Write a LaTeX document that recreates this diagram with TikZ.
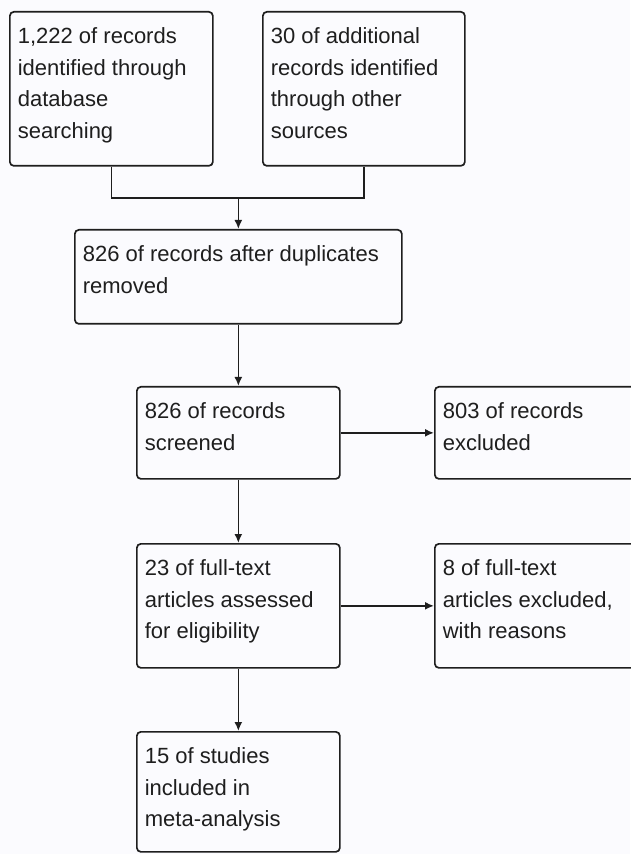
\documentclass[tikz,border=0pt]{standalone}
\usepackage{fontspec}
\setmainfont{Liberation Sans}
\usetikzlibrary{arrows.meta}
\definecolor{paper}{RGB}{251,251,254}
\definecolor{ink}{RGB}{30,30,30}
\newcommand{\boxtext}[3]{\parbox[c][#2][t]{#1}{\raggedright\rule{0pt}{16pt}#3}}
\begin{document}
\begin{tikzpicture}[x=0.5pt,y=-0.5pt,
  stage/.style={draw=ink, text=ink, line width=0.85pt, rounded corners=2pt, anchor=north west,
    inner xsep=4pt, inner ysep=0pt, font=\fontsize{11}{15.75}\selectfont},
  flow/.style={draw=ink, line width=0.85pt, -{Latex[length=4.5pt,width=4pt]}}]
\fill[paper] (0,0) rectangle (630,854);
\useasboundingbox (0,0) rectangle (630,854);

\node[stage] (database) at (9,11) {\boxtext{93.5pt}{77pt}{1,222 of records\\identified through\\database\\searching}};
\node[stage] (other) at (262,11) {\boxtext{93pt}{77pt}{30 of additional\\records identified\\through other\\sources}};
\node[stage] (dedup) at (74,229) {\boxtext{155.5pt}{47pt}{826 of records after duplicates\\removed}};
\node[stage] (screened) at (136,386) {\boxtext{93.5pt}{46pt}{826 of records\\screened}};
\node[stage] (excluded) at (434,386) {\boxtext{97pt}{46pt}{803 of records\\excluded}};
\node[stage] (fulltext) at (136,543) {\boxtext{93.5pt}{62pt}{23 of full-text\\articles assessed\\for eligibility}};
\node[stage] (reasons) at (434,543) {\boxtext{97pt}{62pt}{8 of full-text\\articles excluded,\\with reasons}};
\node[stage] (included) at (136,731) {\boxtext{93.5pt}{60pt}{15 of studies\\included in\\meta-analysis}};

\path (dedup.north) ++(0,-31) coordinate (merge);
\path[draw=ink,line width=0.85pt] (database.south) |- (merge) -| (other.south);
\path[flow] (merge) -- (dedup.north);
\path[flow] (dedup.south) -- (screened.north);
\path[flow] (screened.east) -- (excluded.west);
\path[flow] (screened.south) -- (fulltext.north);
\path[flow] (fulltext.east) -- (reasons.west);
\path[flow] (fulltext.south) -- (included.north);
\end{tikzpicture}
\end{document}
